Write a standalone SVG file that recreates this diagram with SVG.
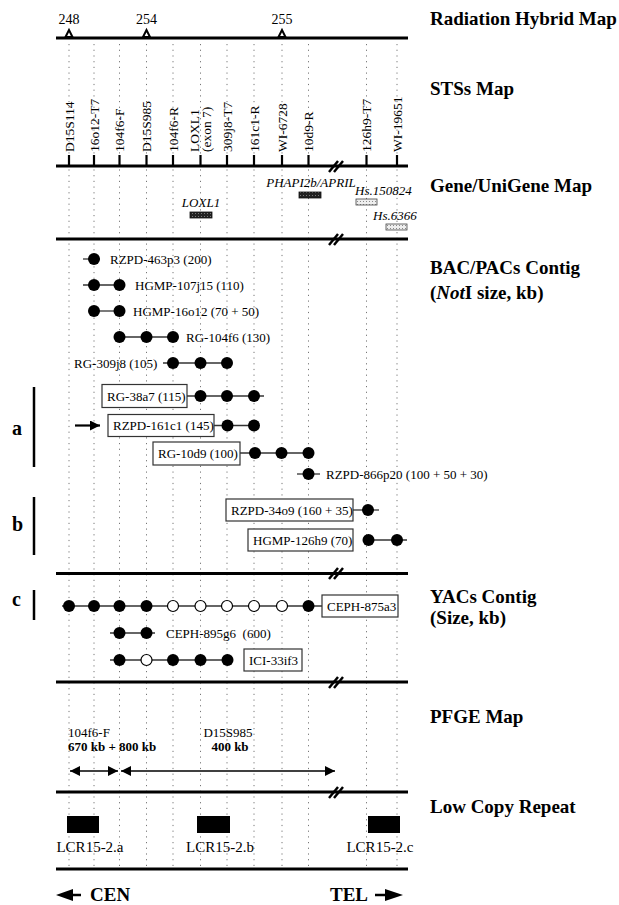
<svg xmlns="http://www.w3.org/2000/svg" width="619" height="905" viewBox="0 0 619 905">
<style>
text{font-family:"Liberation Serif","Times New Roman",serif;fill:#000}
.title{font-size:19px;font-weight:bold}
.grp{font-size:20px;font-weight:bold}
.lab{font-size:13px}
.sts{font-size:13.5px}
.it{font-size:13px;font-style:italic}
.grid{stroke:#777;stroke-width:1;stroke-dasharray:1.2 4.5}
.axis{stroke:#000;stroke-width:3;fill:none}
.tick{stroke:#000;stroke-width:2.2}
.brk{stroke:#000;stroke-width:2.5}
.con{stroke:#333;stroke-width:1.3}
.dot{fill:#000}
.odot{fill:#fff;stroke:#000;stroke-width:1.2}
.box{fill:#fff;stroke:#333;stroke-width:1.2}
.bar{stroke:#000;stroke-width:2.5}
</style>
<defs>
<marker id="ah" viewBox="0 0 10 10" refX="10" refY="5" markerWidth="10" markerHeight="10" markerUnits="userSpaceOnUse" orient="auto-start-reverse"><path d="M0,0 L10,5 L0,10 z" fill="#000"/></marker>
<pattern id="hatch" width="3" height="3" patternUnits="userSpaceOnUse"><rect width="3" height="3" fill="#eee"/><rect width="1" height="1" fill="#888"/></pattern>
<pattern id="dark" width="3" height="3" patternUnits="userSpaceOnUse"><rect width="3" height="3" fill="#222"/><rect width="1" height="1" fill="#777"/></pattern>
</defs>
<rect width="619" height="905" fill="#fff"/>

<g id="grid">
<line class="grid" x1="69" y1="44" x2="69" y2="870"/>
<line class="grid" x1="94" y1="44" x2="94" y2="870"/>
<line class="grid" x1="119.5" y1="44" x2="119.5" y2="870"/>
<line class="grid" x1="146.5" y1="44" x2="146.5" y2="870"/>
<line class="grid" x1="173" y1="44" x2="173" y2="870"/>
<line class="grid" x1="200.5" y1="44" x2="200.5" y2="870"/>
<line class="grid" x1="227" y1="44" x2="227" y2="870"/>
<line class="grid" x1="254" y1="44" x2="254" y2="870"/>
<line class="grid" x1="282" y1="44" x2="282" y2="870"/>
<line class="grid" x1="308.5" y1="44" x2="308.5" y2="870"/>
<line class="grid" x1="366.5" y1="44" x2="366.5" y2="870"/>
<line class="grid" x1="397" y1="44" x2="397" y2="870"/>
</g>

<g id="titles">
<text class="title" x="430" y="25">Radiation Hybrid Map</text>
<text class="title" x="430" y="95">STSs Map</text>
<text class="title" x="430" y="192">Gene/UniGene Map</text>
<text class="title" x="430" y="274">BAC/PACs Contig</text>
<text class="title" x="430" y="299">(<tspan font-style="italic">Not</tspan>I size, kb)</text>
<text class="title" x="430" y="603">YACs Contig</text>
<text class="title" x="430" y="624">(Size, kb)</text>
<text class="title" x="430" y="723">PFGE Map</text>
<text class="title" x="430" y="813">Low Copy Repeat</text>
</g>

<g id="rh-map">
<line class="axis" x1="56" y1="38" x2="408" y2="38"/>
<polygon points="65.5,37 69,30 72.5,37" fill="#fff" stroke="#000" stroke-width="2"/>
<polygon points="143,37 146.5,30 150,37" fill="#fff" stroke="#000" stroke-width="2"/>
<polygon points="278.5,37 282,30 285.5,37" fill="#fff" stroke="#000" stroke-width="2"/>
<text x="69" y="24" text-anchor="middle" font-size="14">248</text>
<text x="146.5" y="24" text-anchor="middle" font-size="14">254</text>
<text x="282" y="24" text-anchor="middle" font-size="14">255</text>
</g>

<g id="sts-map">
<line class="axis" x1="56" y1="166" x2="408" y2="166"/>
<g class="tick">
<line x1="69" y1="155" x2="69" y2="166"/><line x1="94" y1="155" x2="94" y2="166"/>
<line x1="119.5" y1="155" x2="119.5" y2="166"/><line x1="146.5" y1="155" x2="146.5" y2="166"/>
<line x1="173" y1="155" x2="173" y2="166"/><line x1="200.5" y1="155" x2="200.5" y2="166"/>
<line x1="227" y1="155" x2="227" y2="166"/><line x1="254" y1="155" x2="254" y2="166"/>
<line x1="282" y1="155" x2="282" y2="166"/><line x1="308.5" y1="155" x2="308.5" y2="166"/>
<line x1="366.5" y1="155" x2="366.5" y2="166"/><line x1="397" y1="155" x2="397" y2="166"/>
</g>
<line class="brk" x1="329" y1="172" x2="338" y2="161"/>
<line class="brk" x1="334" y1="172" x2="343" y2="161"/>
<text class="sts" transform="translate(73.5,152) rotate(-90)">D15S114</text>
<text class="sts" transform="translate(98.5,152) rotate(-90)">16o12-T7</text>
<text class="sts" transform="translate(124,152) rotate(-90)">104f6-F</text>
<text class="sts" transform="translate(151,152) rotate(-90)">D15S985</text>
<text class="sts" transform="translate(177.5,152) rotate(-90)">104f6-R</text>
<text class="sts" transform="translate(199,152) rotate(-90)">LOXL1</text>
<text class="sts" transform="translate(211,152) rotate(-90)">(exon 7)</text>
<text class="sts" transform="translate(231.5,152) rotate(-90)">309j8-T7</text>
<text class="sts" transform="translate(258.5,152) rotate(-90)">161c1-R</text>
<text class="sts" transform="translate(286.5,152) rotate(-90)">WI-6728</text>
<text class="sts" transform="translate(313,152) rotate(-90)">10d9-R</text>
<text class="sts" transform="translate(371,152) rotate(-90)">126h9-T7</text>
<text class="sts" transform="translate(401.5,152) rotate(-90)">WI-19651</text>
</g>

<g id="gene-map">
<line class="axis" x1="56" y1="239" x2="408" y2="239"/>
<line class="brk" x1="329" y1="245" x2="338" y2="234"/>
<line class="brk" x1="334" y1="245" x2="343" y2="234"/>
<text class="it" x="201" y="207" text-anchor="middle">LOXL1</text>
<rect x="190" y="212" width="22" height="6" fill="url(#dark)" stroke="#111" stroke-width="0.8"/>
<text class="it" x="311" y="187" text-anchor="middle">PHAPI2b/APRIL</text>
<rect x="299" y="192" width="22" height="6" fill="url(#dark)" stroke="#111" stroke-width="0.8"/>
<text class="it" x="355" y="195">Hs.150824</text>
<rect x="356" y="199" width="21" height="6" fill="url(#hatch)" stroke="#444" stroke-width="0.8"/>
<text class="it" x="373" y="220">Hs.6366</text>
<rect x="386" y="224" width="21" height="6" fill="url(#hatch)" stroke="#444" stroke-width="0.8"/>
</g>

<g id="bac-contig">
<g id="bac-463p3">
<line class="con" x1="83" y1="259" x2="100" y2="259"/>
<circle class="dot" cx="94" cy="259" r="6"/>
<text class="lab" x="110" y="263.5">RZPD-463p3 (200)</text>
</g>
<g id="bac-107j15">
<line class="con" x1="83" y1="285" x2="125" y2="285"/>
<circle class="dot" cx="94" cy="285" r="6"/><circle class="dot" cx="119.5" cy="285" r="6"/>
<text class="lab" x="135" y="289.5">HGMP-107j15 (110)</text>
</g>
<g id="bac-16o12">
<line class="con" x1="94" y1="311" x2="119.5" y2="311"/>
<circle class="dot" cx="94" cy="311" r="6"/><circle class="dot" cx="119.5" cy="311" r="6"/>
<text class="lab" x="133" y="315.5">HGMP-16o12 (70 + 50)</text>
</g>
<g id="bac-104f6">
<line class="con" x1="119.5" y1="337" x2="173" y2="337"/>
<circle class="dot" cx="119.5" cy="337" r="6"/><circle class="dot" cx="146.5" cy="337" r="6"/><circle class="dot" cx="173" cy="337" r="6"/>
<text class="lab" x="186" y="341.5">RG-104f6 (130)</text>
</g>
<g id="bac-309j8">
<text class="lab" x="74" y="367.5">RG-309j8 (105)</text>
<line class="con" x1="163" y1="363" x2="227" y2="363"/>
<circle class="dot" cx="173" cy="363" r="6"/><circle class="dot" cx="200.5" cy="363" r="6"/><circle class="dot" cx="227" cy="363" r="6"/>
</g>
<g id="bac-38a7">
<rect class="box" x="102" y="384.5" width="85" height="23"/>
<text class="lab" x="107" y="400.5">RG-38a7 (115)</text>
<line class="con" x1="187" y1="396" x2="264" y2="396"/>
<circle class="dot" cx="200.5" cy="396" r="6"/><circle class="dot" cx="227" cy="396" r="6"/><circle class="dot" cx="254" cy="396" r="6"/>
</g>
<g id="bac-161c1">
<line stroke="#000" stroke-width="2.2" x1="75" y1="425.5" x2="100" y2="425.5" marker-end="url(#ah)"/>
<rect class="box" x="108" y="414.5" width="106" height="22"/>
<text class="lab" x="113" y="430">RZPD-161c1 (145)</text>
<line class="con" x1="214" y1="425.5" x2="254" y2="425.5"/>
<circle class="dot" cx="227.5" cy="425.5" r="6"/><circle class="dot" cx="254" cy="425.5" r="6"/>
</g>
<g id="bac-10d9">
<rect class="box" x="153" y="442" width="87" height="23"/>
<text class="lab" x="158" y="458">RG-10d9 (100)</text>
<line class="con" x1="240" y1="453" x2="308.5" y2="453"/>
<circle class="dot" cx="255" cy="453" r="6"/><circle class="dot" cx="281.5" cy="453" r="6"/><circle class="dot" cx="308.5" cy="453" r="6"/>
</g>
<g id="bac-866p20">
<line class="con" x1="297" y1="474" x2="320" y2="474"/>
<circle class="dot" cx="308.5" cy="474" r="6"/>
<text class="lab" x="326" y="478.5">RZPD-866p20 (100 + 50 + 30)</text>
</g>
<g id="bac-34o9">
<rect class="box" x="226" y="499" width="127" height="22"/>
<text class="lab" x="231" y="514.5">RZPD-34o9 (160 + 35)</text>
<line class="con" x1="353" y1="510" x2="379" y2="510"/>
<circle class="dot" cx="368" cy="510" r="6"/>
</g>
<g id="bac-126h9">
<rect class="box" x="248" y="529" width="105" height="22"/>
<text class="lab" x="253" y="544.5">HGMP-126h9 (70)</text>
<line class="con" x1="368" y1="540" x2="407" y2="540"/>
<circle class="dot" cx="368.5" cy="540" r="6"/><circle class="dot" cx="397" cy="540" r="6"/>
</g>
<line class="axis" x1="56" y1="573.5" x2="408" y2="573.5"/>
<line class="brk" x1="329" y1="579" x2="338" y2="568"/>
<line class="brk" x1="334" y1="579" x2="343" y2="568"/>
</g>

<g id="groups">
<line class="bar" x1="34" y1="387" x2="34" y2="467"/>
<text class="grp" x="12" y="435">a</text>
<line class="bar" x1="34" y1="497" x2="34" y2="555"/>
<text class="grp" x="12" y="531">b</text>
<line class="bar" x1="34" y1="590" x2="34" y2="620"/>
<text class="grp" x="12" y="606">c</text>
</g>

<g id="yac-contig">
<g id="yac-875a3">
<line class="con" x1="62" y1="606" x2="322" y2="606"/>
<circle class="dot" cx="69" cy="606" r="6"/><circle class="dot" cx="94" cy="606" r="6"/>
<circle class="dot" cx="119.5" cy="606" r="6"/><circle class="dot" cx="146.5" cy="606" r="6"/>
<circle class="odot" cx="173" cy="606" r="5.5"/><circle class="odot" cx="200.5" cy="606" r="5.5"/>
<circle class="odot" cx="227" cy="606" r="5.5"/><circle class="odot" cx="254" cy="606" r="5.5"/>
<circle class="odot" cx="282" cy="606" r="5.5"/><circle class="dot" cx="308.5" cy="606" r="6"/>
<rect class="box" x="322" y="595" width="76" height="22"/>
<text class="lab" x="327" y="610.5">CEPH-875a3</text>
</g>
<g id="yac-895g6">
<line class="con" x1="110" y1="633" x2="155" y2="633"/>
<circle class="dot" cx="119.5" cy="633" r="6"/><circle class="dot" cx="146.5" cy="633" r="6"/>
<text class="lab" x="166" y="637.5" xml:space="preserve">CEPH-895g6  (600)</text>
</g>
<g id="yac-33if3">
<line class="con" x1="110" y1="660" x2="227.5" y2="660"/>
<circle class="dot" cx="119.5" cy="660" r="6"/><circle class="odot" cx="146.5" cy="660" r="5.5"/>
<circle class="dot" cx="173" cy="660" r="6"/><circle class="dot" cx="200.5" cy="660" r="6"/>
<circle class="dot" cx="227.5" cy="660" r="6"/>
<rect class="box" x="244" y="649" width="58" height="22"/>
<text class="lab" x="249" y="664.5">ICI-33if3</text>
</g>
<line class="axis" x1="56" y1="682" x2="408" y2="682"/>
<line class="brk" x1="329" y1="688" x2="338" y2="677"/>
<line class="brk" x1="334" y1="688" x2="343" y2="677"/>
</g>

<g id="pfge-map">
<text class="lab" x="68" y="737">104f6-F</text>
<text class="lab" x="68" y="751" font-weight="bold">670 kb + 800 kb</text>
<text class="lab" x="228" y="737" text-anchor="middle">D15S985</text>
<text class="lab" x="230" y="751" text-anchor="middle" font-weight="bold">400 kb</text>
<line stroke="#000" stroke-width="1.3" x1="70" y1="771" x2="118" y2="771" marker-start="url(#ah)" marker-end="url(#ah)"/>
<line stroke="#000" stroke-width="1.3" x1="121" y1="771" x2="335" y2="771" marker-start="url(#ah)" marker-end="url(#ah)"/>
<line class="axis" x1="56" y1="792" x2="408" y2="792"/>
<line class="brk" x1="329" y1="798" x2="338" y2="787"/>
<line class="brk" x1="334" y1="798" x2="343" y2="787"/>
</g>

<g id="lcr">
<rect x="67" y="816" width="32" height="17" fill="#000"/>
<rect x="197" y="816" width="33" height="17" fill="#000"/>
<rect x="368" y="816" width="32" height="17" fill="#000"/>
<text x="90" y="852" text-anchor="middle" font-size="15">LCR15-2.a</text>
<text x="220" y="852" text-anchor="middle" font-size="15">LCR15-2.b</text>
<text x="380" y="852" text-anchor="middle" font-size="15">LCR15-2.c</text>
<line class="axis" x1="56" y1="869" x2="408" y2="869"/>
</g>

<g id="orientation">
<polygon points="56,895 73,889 73,901" fill="#000"/>
<line x1="70" y1="895" x2="81" y2="895" stroke="#000" stroke-width="2.5"/>
<text class="title" x="90" y="901">CEN</text>
<text class="title" x="330" y="901">TEL</text>
<line x1="375" y1="895" x2="388" y2="895" stroke="#000" stroke-width="2.5"/>
<polygon points="403,895 385,889 385,901" fill="#000"/>
</g>
</svg>
